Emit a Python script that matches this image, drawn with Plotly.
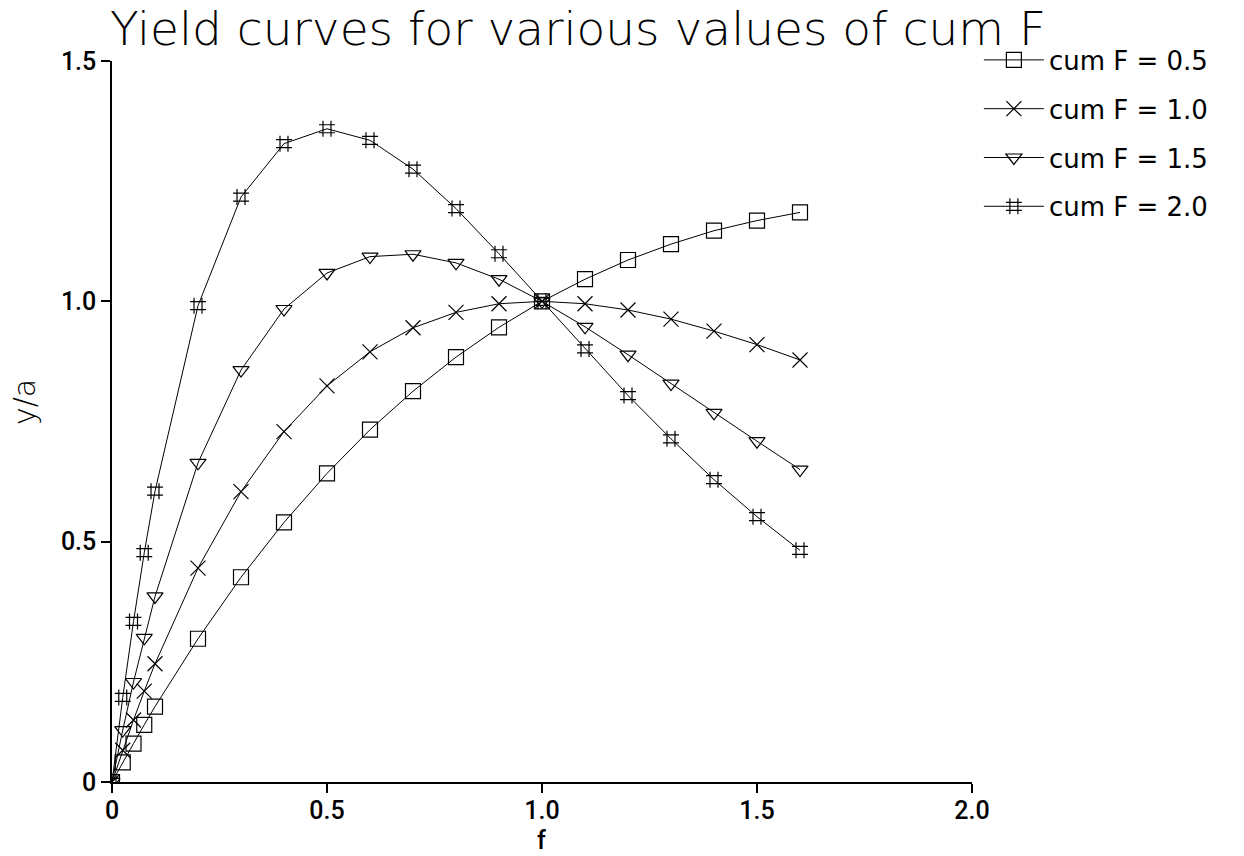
import plotly.graph_objects as go

# f values (x axis)
f_vals = [0, 0.025, 0.05, 0.075, 0.1, 0.2, 0.3, 0.4, 0.5, 0.6, 0.7, 0.8,
          0.9, 1.0, 1.1, 1.2, 1.3, 1.4, 1.5, 1.6]

# y/a values, one list per cum F
y_cum05 = [0, 0.041, 0.080, 0.119, 0.157, 0.298, 0.426, 0.540, 0.642, 0.733,
           0.813, 0.884, 0.946, 1.0, 1.046, 1.086, 1.119, 1.147, 1.168, 1.185]
y_cum10 = [0, 0.066, 0.129, 0.189, 0.246, 0.445, 0.604, 0.729, 0.824, 0.895,
           0.945, 0.977, 0.995, 1.0, 0.995, 0.982, 0.963, 0.938, 0.910, 0.878]
y_cum15 = [0, 0.108, 0.208, 0.300, 0.386, 0.664, 0.857, 0.984, 1.059, 1.093,
           1.098, 1.080, 1.046, 1.0, 0.947, 0.889, 0.829, 0.768, 0.709, 0.650]
y_cum20 = [0, 0.176, 0.334, 0.477, 0.605, 0.991, 1.217, 1.328, 1.359, 1.335,
           1.275, 1.193, 1.099, 1.0, 0.901, 0.804, 0.714, 0.629, 0.552, 0.482]

series_names = ["cum F = 0.5", "cum F = 1.0", "cum F = 1.5", "cum F = 2.0"]
series_values = [y_cum05, y_cum10, y_cum15, y_cum20]
symbols = ["square-open", "x-thin-open", "triangle-down-open", "hash-open"]
sizes = [15, 15, 14, 16]

x_tickvals = [0, 0.5, 1.0, 1.5, 2.0]
x_ticktext = ["0", "0.5", "1.0", "1.5", "2.0"]
y_tickvals = [0, 0.5, 1.0, 1.5]
y_ticktext = ["0", "0.5", "1.0", "1.5"]

fig = go.Figure()
for i, (name, vals) in enumerate(zip(series_names, series_values)):
    fig.add_trace(go.Scatter(
        x=f_vals, y=vals, name=name, mode="lines+markers",
        line=dict(color="black", width=1),
        marker=dict(symbol=symbols[i], size=sizes[i], color="black",
                    line=dict(color="black", width=1.2)),
        legendgroup="g%d" % i,
    ))

W, H = 1244, 856
L, R, T, B = 112, 272, 61, 74

tick_font = dict(family="Roboto", size=25, color="black", weight=500)

fig.update_layout(
    width=W, height=H,
    margin=dict(l=L, r=R, t=T, b=B),
    paper_bgcolor="white", plot_bgcolor="white",
    title=dict(text="Yield curves for various values of cum F",
               x=578 / W, xanchor="center", y=1 - 29 / H, yanchor="middle",
               font=dict(family="DejaVu Sans", size=47, color="black", weight=200)),
    showlegend=True,
    legend=dict(x=1.008, y=1.034, xanchor="left", yanchor="top",
                font=dict(family="DejaVu Sans", size=26, color="black"),
                itemwidth=60,
                tracegroupgap=12, bgcolor="rgba(0,0,0,0)"),
    xaxis=dict(range=[0, 2.0], tickvals=x_tickvals, ticktext=x_ticktext,
               showgrid=False, zeroline=False, showline=True, linecolor="black",
               linewidth=1.5, ticks="outside", ticklen=9, tickwidth=1.5,
               tickcolor="black", ticklabelstandoff=-4,
               tickfont=tick_font),
    yaxis=dict(range=[0, 1.5], tickvals=y_tickvals, ticktext=y_ticktext,
               showgrid=False, zeroline=False, showline=True, linecolor="black",
               linewidth=1.5, ticks="outside", ticklen=9, tickwidth=1.5,
               tickcolor="black",
               tickfont=tick_font),
    annotations=[
        dict(text="f", xref="paper", yref="paper", x=(541 - L) / (W - L - R),
             y=-(840 - (H - B)) / (H - T - B), xanchor="center", yanchor="middle",
             showarrow=False, font=tick_font),
        dict(text="y/a", xref="paper", yref="paper", x=-(L - 24) / (W - L - R),
             y=((H - B) - 402) / (H - T - B), xanchor="center", yanchor="middle",
             textangle=-90, showarrow=False,
             font=dict(family="DejaVu Sans", size=30, color="black", weight=200)),
    ],
)

fig.write_html("out.html")
